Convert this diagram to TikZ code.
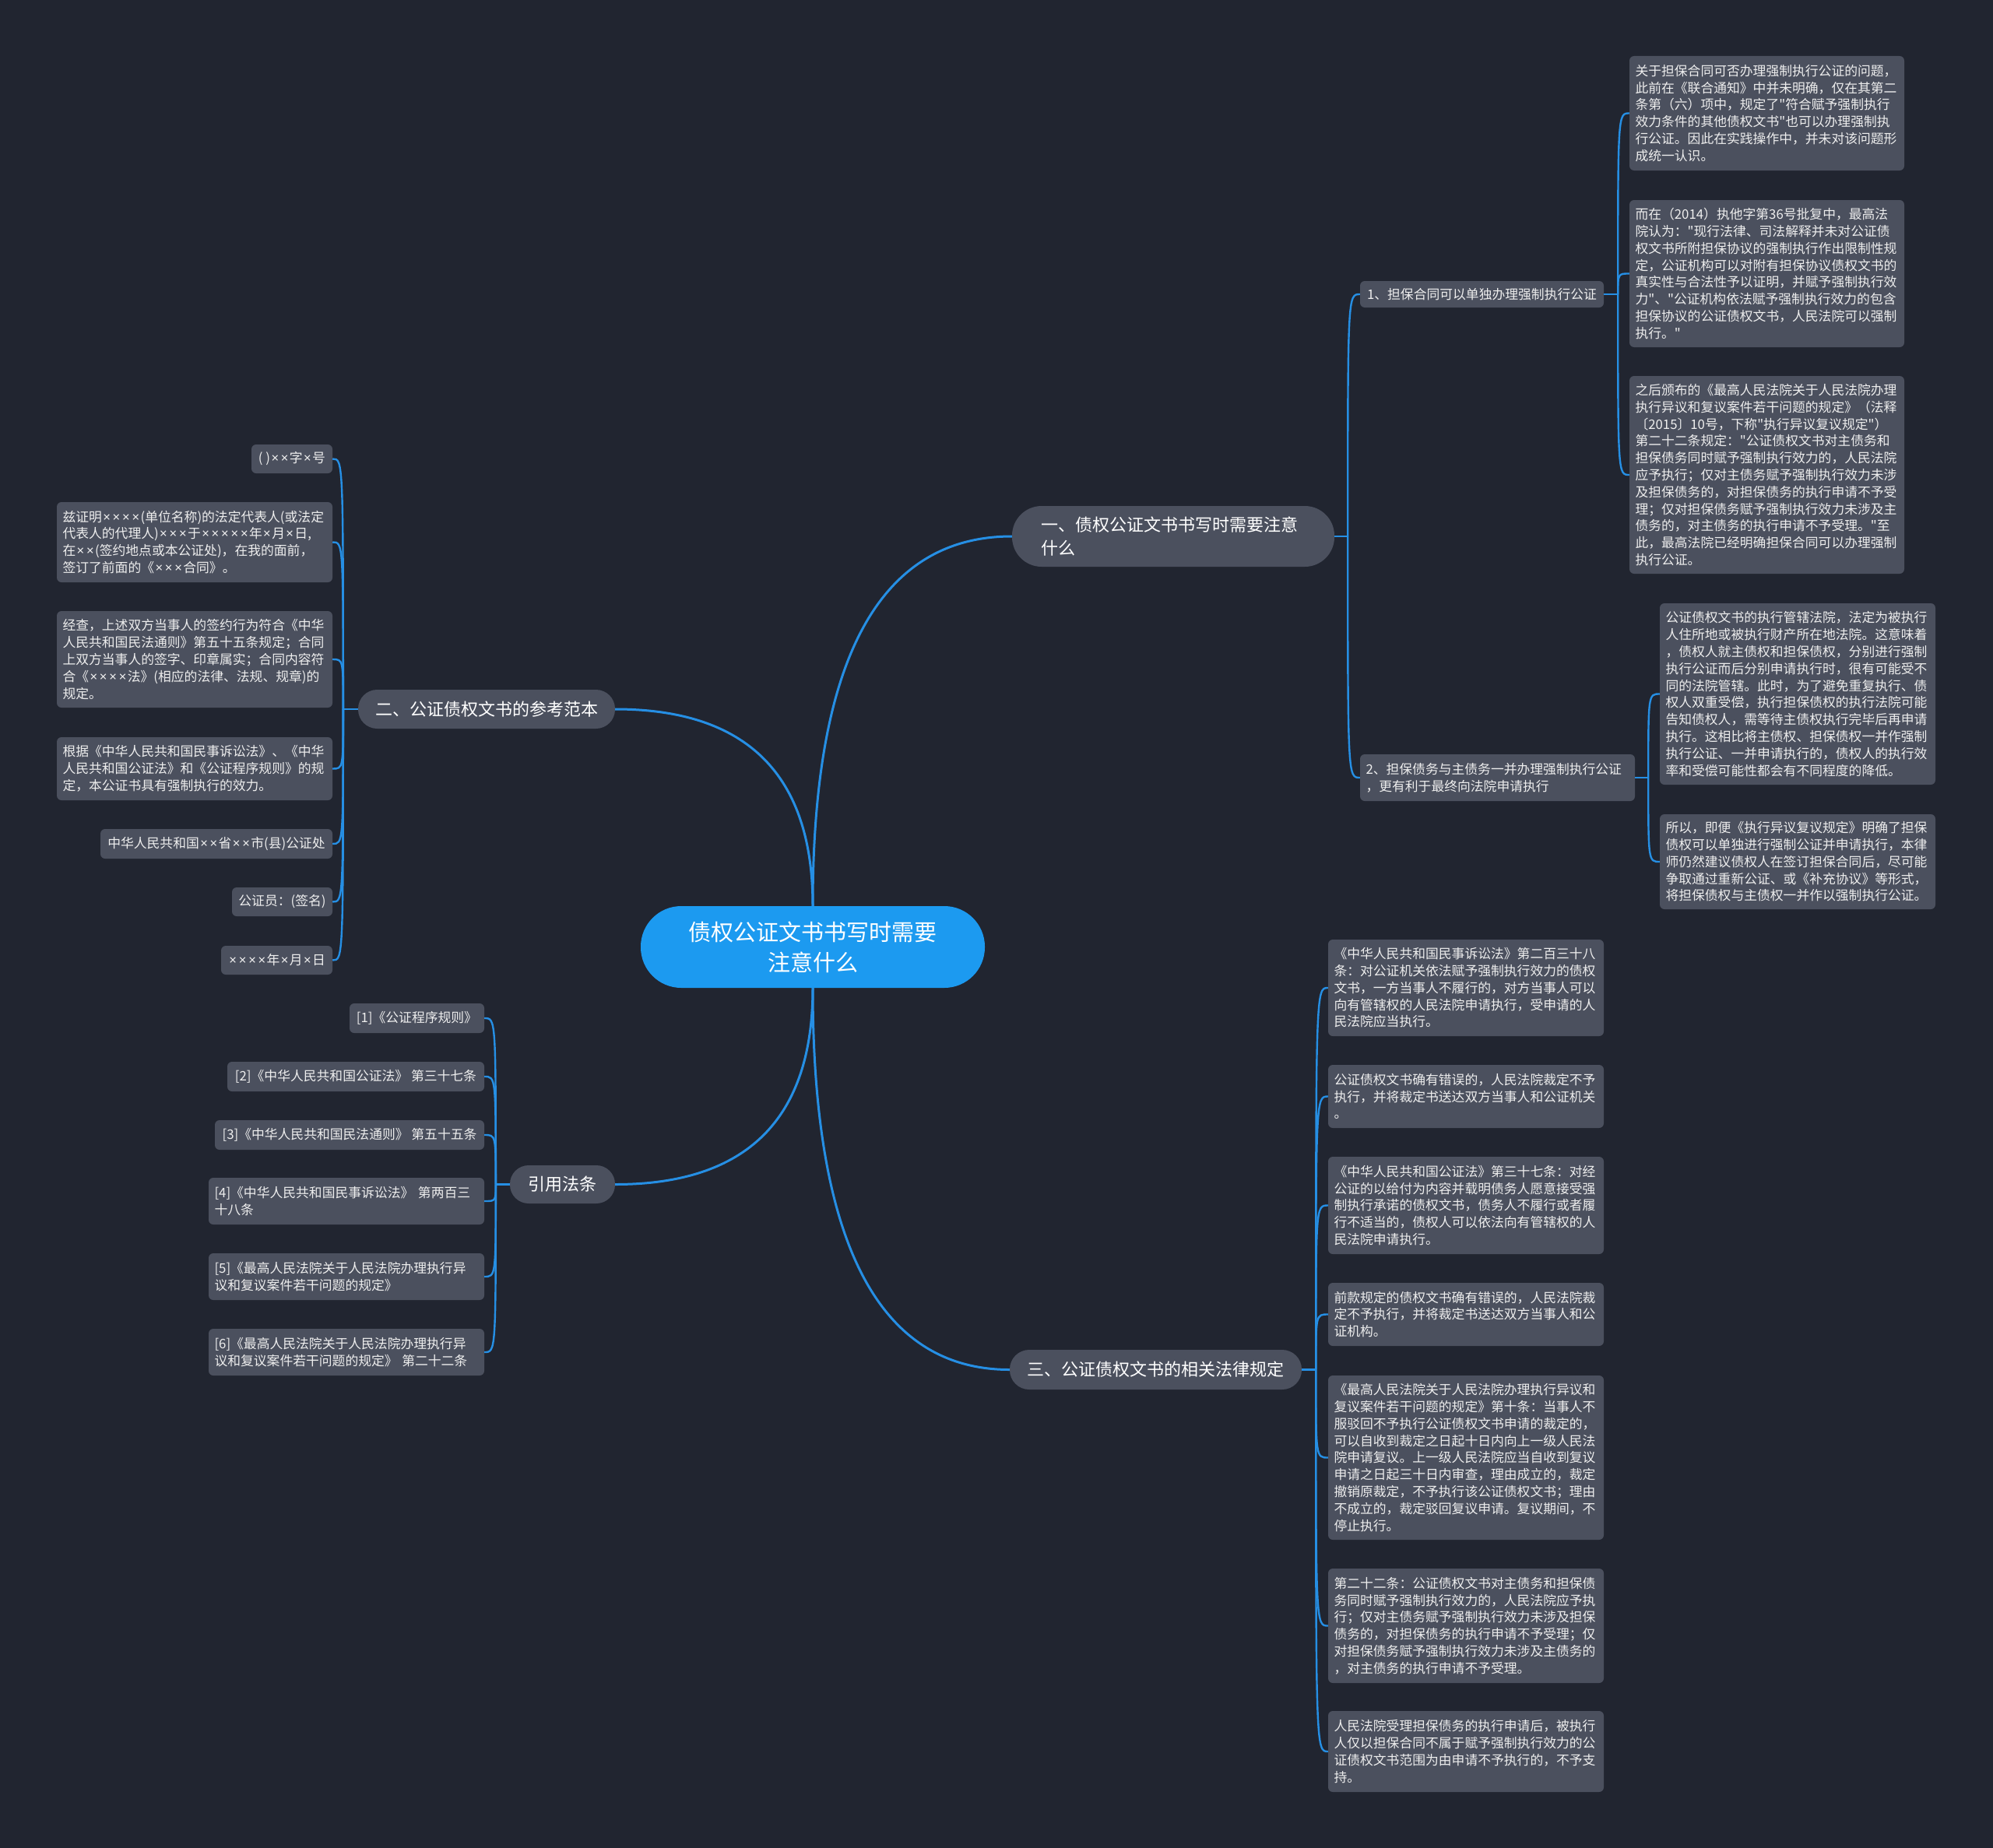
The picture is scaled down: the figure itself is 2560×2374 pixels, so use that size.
\documentclass[tikz,border=0pt]{standalone}
\usepackage{fontspec}
\setmainfont{Noto Sans CJK SC}
\newfontfamily\cjkf{Noto Sans CJK SC}
\newfontfamily\latf{Noto Sans}
\newcommand\tms{\makebox[0.74em]{\latf ×}}
\usetikzlibrary{calc}
\definecolor{bgc}{RGB}{33,37,48}
\definecolor{boxc}{RGB}{75,80,94}
\definecolor{linec}{RGB}{38,143,228}
\definecolor{centc}{RGB}{28,154,240}
\definecolor{txtc}{RGB}{238,238,238}
\tikzset{
  leaf/.style={fill=boxc, rounded corners=6pt, text=txtc, inner sep=0pt, align=left, font=\cjkf\fontsize{16.8}{21.8}\selectfont},
  branchnode/.style={fill=boxc, text=white, inner sep=0pt, align=center, font=\cjkf\fontsize{22}{30}\selectfont},
  rootnode/.style={fill=centc, text=white, inner sep=0pt, align=center, font=\cjkf\fontsize{29}{39}\selectfont},
  mainconn/.style={draw=linec, line width=3pt},
  conn/.style={draw=linec, line width=2.4pt},
}
\newcommand\mmleaf[6]{%
  \pgfmathsetmacro\mmw{#4-#2}%
  \pgfmathsetmacro\mmh{#5-#3}%
  \pgfmathsetmacro\mmt{#4-#2-15}%
  \node[leaf, minimum width=\mmw pt, minimum height=\mmh pt, text width=\mmt pt] (#1) at ({(#2+#4)/2},{(#3+#5)/2}) {#6};}
\newcommand\mmtag[6]{%
  \pgfmathsetmacro\mmw{#4-#2}%
  \pgfmathsetmacro\mmh{#5-#3}%
  \node[leaf, align=center, minimum width=\mmw pt, minimum height=\mmh pt] (#1) at ({(#2+#4)/2},{(#3+#5)/2}) {#6};}
\begin{document}
\begin{tikzpicture}[x=1pt,y=-1pt]
\fill[bgc] (0,0) rectangle (2560,2374);
\useasboundingbox (0,0) rectangle (2560,2374);

% root and branches
\node[rootnode, minimum width=442pt, minimum height=105pt, rounded corners=52pt] (root) at (1044,1216.5) {债权公证文书书写时需要\\注意什么};
\node[branchnode, minimum width=414pt, minimum height=78pt, rounded corners=38pt, text width=340pt, align=left] (b1) at (1507,689) {一、债权公证文书书写时需要注意\\什么};
\node[branchnode, minimum width=330pt, minimum height=50pt, rounded corners=24.5pt] (b2) at (625,911) {二、公证债权文书的参考范本};
\node[branchnode, minimum width=375pt, minimum height=51pt, rounded corners=25pt] (b3) at (1484.5,1759.5) {三、公证债权文书的相关法律规定};
\node[branchnode, minimum width=135pt, minimum height=49pt, rounded corners=24pt] (b4) at (722.5,1521.5) {引用法条};

% branch 1 children
\mmtag{k1}{1747}{361}{2060}{395}{1、担保合同可以单独办理强制执行公证}
\mmleaf{k2}{1747}{969}{2100}{1029}{2、担保债务与主债务一并办理强制执行公证\\，更有利于最终向法院申请执行}

\mmleaf{l1a}{2093}{72}{2446}{219}{关于担保合同可否办理强制执行公证的问题，\\此前在《联合通知》中并未明确，仅在其第二\\条第（六）项中，规定了"符合赋予强制执行\\效力条件的其他债权文书"也可以办理强制执\\行公证。因此在实践操作中，并未对该问题形\\成统一认识。}
\mmleaf{l1b}{2093}{257}{2446}{446}{而在（2014）执他字第36号批复中，最高法\\院认为："现行法律、司法解释并未对公证债\\权文书所附担保协议的强制执行作出限制性规\\定，公证机构可以对附有担保协议债权文书的\\真实性与合法性予以证明，并赋予强制执行效\\力"、"公证机构依法赋予强制执行效力的包含\\担保协议的公证债权文书，人民法院可以强制\\执行。"}
\mmleaf{l1c}{2093}{483}{2446}{737}{之后颁布的《最高人民法院关于人民法院办理\\执行异议和复议案件若干问题的规定》（法释\\〔2015〕10号，下称"执行异议复议规定"）\\第二十二条规定："公证债权文书对主债务和\\担保债务同时赋予强制执行效力的，人民法院\\应予执行；仅对主债务赋予强制执行效力未涉\\及担保债务的，对担保债务的执行申请不予受\\理；仅对担保债务赋予强制执行效力未涉及主\\债务的，对主债务的执行申请不予受理。"至\\此，最高法院已经明确担保合同可以办理强制\\执行公证。}

\mmleaf{l2a}{2132}{775}{2486}{1008}{公证债权文书的执行管辖法院，法定为被执行\\人住所地或被执行财产所在地法院。这意味着\\，债权人就主债权和担保债权，分别进行强制\\执行公证而后分别申请执行时，很有可能受不\\同的法院管辖。此时，为了避免重复执行、债\\权人双重受偿，执行担保债权的执行法院可能\\告知债权人，需等待主债权执行完毕后再申请\\执行。这相比将主债权、担保债权一并作强制\\执行公证、一并申请执行的，债权人的执行效\\率和受偿可能性都会有不同程度的降低。}
\mmleaf{l2b}{2132}{1046}{2486}{1168}{所以，即便《执行异议复议规定》明确了担保\\债权可以单独进行强制公证并申请执行，本律\\师仍然建议债权人在签订担保合同后，尽可能\\争取通过重新公证、或《补充协议》等形式，\\将担保债权与主债权一并作以强制执行公证。}

% branch 3 leaves
\mmleaf{l3a}{1706}{1207}{2060}{1331}{《中华人民共和国民事诉讼法》第二百三十八\\条：对公证机关依法赋予强制执行效力的债权\\文书，一方当事人不履行的，对方当事人可以\\向有管辖权的人民法院申请执行，受申请的人\\民法院应当执行。}
\mmleaf{l3b}{1706}{1368}{2060}{1449}{公证债权文书确有错误的，人民法院裁定不予\\执行，并将裁定书送达双方当事人和公证机关\\。}
\mmleaf{l3c}{1706}{1486}{2060}{1611}{《中华人民共和国公证法》第三十七条：对经\\公证的以给付为内容并载明债务人愿意接受强\\制执行承诺的债权文书，债务人不履行或者履\\行不适当的，债权人可以依法向有管辖权的人\\民法院申请执行。}
\mmleaf{l3d}{1706}{1648}{2060}{1729}{前款规定的债权文书确有错误的，人民法院裁\\定不予执行，并将裁定书送达双方当事人和公\\证机构。}
\mmleaf{l3e}{1706}{1767}{2060}{1978}{《最高人民法院关于人民法院办理执行异议和\\复议案件若干问题的规定》第十条：当事人不\\服驳回不予执行公证债权文书申请的裁定的，\\可以自收到裁定之日起十日内向上一级人民法\\院申请复议。上一级人民法院应当自收到复议\\申请之日起三十日内审查，理由成立的，裁定\\撤销原裁定，不予执行该公证债权文书；理由\\不成立的，裁定驳回复议申请。复议期间，不\\停止执行。}
\mmleaf{l3f}{1706}{2015}{2060}{2162}{第二十二条：公证债权文书对主债务和担保债\\务同时赋予强制执行效力的，人民法院应予执\\行；仅对主债务赋予强制执行效力未涉及担保\\债务的，对担保债务的执行申请不予受理；仅\\对担保债务赋予强制执行效力未涉及主债务的\\，对主债务的执行申请不予受理。}
\mmleaf{l3g}{1706}{2198}{2060}{2302}{人民法院受理担保债务的执行申请后，被执行\\人仅以担保合同不属于赋予强制执行效力的公\\证债权文书范围为由申请不予执行的，不予支\\持。}

% branch 2 leaves
\mmtag{m1}{323}{571}{427}{608}{( )\tms\tms 字\tms 号}
\mmleaf{m2}{73}{645}{427}{748}{兹证明\tms\tms\tms\tms(单位名称)的法定代表人(或法定\\代表人的代理人)\tms\tms\tms 于\tms\tms\tms\tms\tms 年\tms 月\tms 日,\\在\tms\tms(签约地点或本公证处)，在我的面前，\\签订了前面的《\tms\tms\tms 合同》。}
\mmleaf{m3}{73}{785}{427}{909}{经查，上述双方当事人的签约行为符合《中华\\人民共和国民法通则》第五十五条规定；合同\\上双方当事人的签字、印章属实；合同内容符\\合《\tms\tms\tms\tms 法》(相应的法律、法规、规章)的\\规定。}
\mmleaf{m4}{73}{947}{427}{1028}{根据《中华人民共和国民事诉讼法》、《中华\\人民共和国公证法》和《公证程序规则》的规\\定，本公证书具有强制执行的效力。}
\mmtag{m5}{129}{1065}{427}{1103}{中华人民共和国\tms\tms 省\tms\tms 市(县)公证处}
\mmtag{m6}{298}{1140}{427}{1177}{公证员：(签名)}
\mmtag{m7}{284}{1215}{427}{1252}{\tms\tms\tms\tms 年\tms 月\tms 日}

% branch 4 leaves
\mmtag{c1}{449}{1289}{622}{1327}{[1]《公证程序规则》}
\mmtag{c2}{292}{1364}{622}{1402}{[2]《中华人民共和国公证法》 第三十七条}
\mmtag{c3}{276}{1439}{622}{1477}{[3]《中华人民共和国民法通则》 第五十五条}
\mmleaf{c4}{268}{1513}{622}{1573}{[4]《中华人民共和国民事诉讼法》 第两百三\\十八条}
\mmleaf{c5}{268}{1610}{622}{1670}{[5]《最高人民法院关于人民法院办理执行异\\议和复议案件若干问题的规定》}
\mmleaf{c6}{268}{1707}{622}{1767}{[6]《最高人民法院关于人民法院办理执行异\\议和复议案件若干问题的规定》 第二十二条}

% main connectors
\coordinate (q1) at (root.north |- b1.west);
\coordinate (q2) at (root.north |- b2.east);
\coordinate (q3) at (root.south |- b3.west);
\coordinate (q4) at (root.south |- b4.east);
\draw[mainconn] (root.north) .. controls ($(root.north)!0.6667!(q1)$) and ($(b1.west)!0.6667!(q1)$) .. (b1.west);
\draw[mainconn] (root.north) .. controls ($(root.north)!0.6667!(q2)$) and ($(b2.east)!0.6667!(q2)$) .. (b2.east);
\draw[mainconn] (root.south) .. controls ($(root.south)!0.6667!(q3)$) and ($(b3.west)!0.6667!(q3)$) .. (b3.west);
\draw[mainconn] (root.south) .. controls ($(root.south)!0.6667!(q4)$) and ($(b4.east)!0.6667!(q4)$) .. (b4.east);

% sub connectors
\draw[conn] (b1.east) -- ++(17,0) coordinate (t1);
\foreach \n in {k1,k2} \draw[conn] (t1) .. controls (t1 |- \n.west) and (t1 |- \n.west) .. (\n.west);
\draw[conn] (k1.east) -- ++(18,0) coordinate (tk1);
\foreach \n in {l1a,l1b,l1c} \draw[conn] (tk1) .. controls (tk1 |- \n.west) and (tk1 |- \n.west) .. (\n.west);
\draw[conn] (k2.east) -- ++(17,0) coordinate (tk2);
\foreach \n in {l2a,l2b} \draw[conn] (tk2) .. controls (tk2 |- \n.west) and (tk2 |- \n.west) .. (\n.west);
\draw[conn] (b3.east) -- ++(18,0) coordinate (t3);
\foreach \n in {l3a,l3b,l3c,l3d,l3e,l3f,l3g} \draw[conn] (t3) .. controls (t3 |- \n.west) and (t3 |- \n.west) .. (\n.west);
\draw[conn] (b2.west) -- ++(-19,0) coordinate (t2);
\foreach \n in {m1,m2,m3,m4,m5,m6,m7} \draw[conn] (t2) .. controls (t2 |- \n.east) and (t2 |- \n.east) .. (\n.east);
\draw[conn] (b4.west) -- ++(-18,0) coordinate (t4);
\foreach \n in {c1,c2,c3,c4,c5,c6} \draw[conn] (t4) .. controls (t4 |- \n.east) and (t4 |- \n.east) .. (\n.east);
\end{tikzpicture}
\end{document}
